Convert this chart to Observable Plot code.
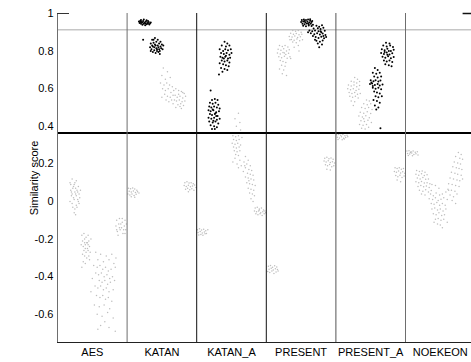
<!DOCTYPE html>
<html>
<head>
<meta charset="utf-8">
<script src="https://cdn.jsdelivr.net/npm/d3@7"></script>
<script src="https://cdn.jsdelivr.net/npm/@observablehq/plot@0.6"></script>
<style>
  html, body { margin: 0; padding: 0; background: #fff; overflow: hidden; }
  #chart svg { display: block; }
  #chart svg text { font-weight: normal; }
</style>
</head>
<body>
<div id="chart"></div>
<script>
// Cipher panels along the x axis
const ciphers = ["AES", "KATAN", "KATAN_A", "PRESENT", "PRESENT_A", "NOEKEON"];
const yTicks = [1, 0.8, 0.6, 0.4, 0.2, 0, -0.2, -0.4, -0.6];
const upperThreshold = 0.914;
const lowerThreshold = 0.364;

// Each point: [position inside the panel (0..1), similarity score]
const aesGrey = [
  [0.18,0.10],[0.21,0.12],[0.24,0.09],[0.27,0.11],[0.30,0.08],[0.19,0.06],[0.22,0.07],[0.25,0.05],[0.28,0.06],[0.31,0.04],
  [0.20,0.03],[0.23,0.02],[0.26,0.04],[0.29,0.01],[0.32,0.02],[0.18,0.00],[0.21,-0.01],[0.24,0.01],[0.27,-0.02],[0.30,0.00],
  [0.22,-0.03],[0.25,-0.04],[0.28,-0.03],[0.20,0.05],[0.26,0.07],[0.23,0.08],[0.29,0.05],[0.24,-0.06],[0.27,0.03],[0.21,0.04],
  [0.33,0.06],[0.19,0.09],[0.25,0.10],[0.31,-0.01],[0.26,-0.07],
  [0.35,-0.18],[0.38,-0.17],[0.41,-0.19],[0.44,-0.18],[0.36,-0.21],[0.39,-0.20],[0.42,-0.22],[0.45,-0.21],[0.48,-0.20],[0.34,-0.23],
  [0.37,-0.24],[0.40,-0.23],[0.43,-0.25],[0.46,-0.24],[0.38,-0.26],[0.41,-0.27],[0.44,-0.26],[0.47,-0.27],[0.36,-0.28],[0.39,-0.29],
  [0.42,-0.30],[0.45,-0.29],[0.37,-0.32],[0.40,-0.33],[0.35,-0.35],[0.43,-0.22],[0.40,-0.25],[0.44,-0.23],[0.39,-0.22],[0.46,-0.31],
  [0.55,-0.27],[0.62,-0.28],[0.70,-0.29],[0.78,-0.28],[0.84,-0.30],[0.58,-0.31],[0.66,-0.32],[0.74,-0.31],[0.81,-0.33],
  [0.52,-0.34],[0.57,-0.35],[0.61,-0.34],[0.65,-0.36],[0.69,-0.35],[0.73,-0.37],[0.77,-0.36],[0.83,-0.35],[0.55,-0.38],[0.59,-0.39],
  [0.63,-0.38],[0.67,-0.40],[0.71,-0.39],[0.75,-0.41],[0.79,-0.40],[0.50,-0.41],[0.60,-0.42],[0.64,-0.43],[0.68,-0.42],[0.72,-0.44],
  [0.76,-0.43],[0.82,-0.42],[0.54,-0.45],[0.58,-0.46],[0.62,-0.45],[0.66,-0.47],[0.70,-0.46],[0.74,-0.48],[0.80,-0.47],[0.48,-0.48],
  [0.56,-0.50],[0.61,-0.51],[0.65,-0.50],[0.69,-0.52],[0.73,-0.51],[0.78,-0.53],
  [0.53,-0.55],[0.60,-0.56],[0.67,-0.55],[0.75,-0.57],[0.57,-0.60],[0.64,-0.61],[0.72,-0.59],[0.80,-0.62],[0.62,-0.66],[0.74,-0.67],
  [0.83,-0.69],[0.68,-0.64],[0.58,-0.68],
  [0.85,-0.10],[0.89,-0.09],[0.93,-0.11],[0.97,-0.10],[0.84,-0.13],[0.88,-0.12],[0.92,-0.14],[0.96,-0.13],[0.99,-0.12],[0.86,-0.16],
  [0.90,-0.15],[0.94,-0.17],[0.98,-0.15],[0.87,-0.18],[0.91,-0.12],[0.95,-0.15],[0.89,-0.14],[0.93,-0.09],[0.97,-0.17],[0.85,-0.15]
];
const aesBlack = [];

const katanBlack = [
  [0.17,0.958],[0.19,0.962],[0.21,0.955],[0.23,0.960],[0.25,0.952],[0.27,0.958],[0.29,0.950],[0.31,0.955],[0.33,0.948],[0.18,0.950],
  [0.20,0.946],[0.22,0.952],[0.24,0.945],[0.26,0.948],[0.28,0.943],[0.30,0.946],[0.32,0.941],[0.20,0.966],[0.24,0.968],[0.28,0.964],
  [0.34,0.952],[0.22,0.940],[0.26,0.938],[0.30,0.960],[0.19,0.955],
  [0.36,0.86],[0.40,0.87],[0.44,0.86],[0.48,0.85],[0.34,0.84],[0.38,0.845],[0.42,0.85],[0.46,0.84],[0.50,0.835],[0.33,0.82],
  [0.37,0.825],[0.41,0.83],[0.45,0.82],[0.49,0.815],[0.35,0.81],[0.39,0.805],[0.43,0.81],[0.47,0.80],[0.51,0.81],[0.37,0.795],
  [0.41,0.79],[0.45,0.795],[0.40,0.835],[0.44,0.83],[0.36,0.83],[0.48,0.825],[0.42,0.815],[0.39,0.82],[0.46,0.81],[0.43,0.80],
  [0.38,0.86],[0.47,0.785],[0.52,0.83],[0.34,0.80],[0.23,0.86]
];
const katanGrey = [
  [0.52,0.71],[0.58,0.69],[0.50,0.67],[0.55,0.65],[0.62,0.66],[0.48,0.63],
  [0.53,0.62],[0.57,0.63],[0.61,0.62],[0.65,0.61],[0.51,0.60],[0.55,0.59],[0.59,0.60],[0.63,0.58],[0.67,0.59],[0.54,0.57],
  [0.58,0.56],[0.62,0.555],[0.66,0.565],[0.50,0.555],[0.56,0.54],[0.60,0.53],
  [0.70,0.60],[0.74,0.59],[0.78,0.585],[0.82,0.575],[0.69,0.565],[0.72,0.555],[0.76,0.56],[0.80,0.55],[0.84,0.56],[0.71,0.535],
  [0.75,0.54],[0.79,0.53],[0.83,0.535],[0.73,0.515],[0.77,0.52],[0.81,0.51],[0.70,0.50],[0.78,0.495],[0.74,0.57],[0.68,0.54],
  [0.64,0.54],[0.66,0.52],[0.80,0.58],[0.76,0.505],
  [0.02,0.07],[0.05,0.068],[0.08,0.072],[0.11,0.066],[0.14,0.06],[0.03,0.055],[0.06,0.05],[0.09,0.056],[0.12,0.048],[0.15,0.052],
  [0.01,0.04],[0.04,0.035],[0.07,0.04],[0.10,0.032],[0.13,0.038],[0.17,0.045],[0.06,0.025],[0.11,0.022],
  [0.83,0.10],[0.86,0.105],[0.89,0.098],[0.92,0.10],[0.95,0.095],[0.82,0.085],[0.85,0.08],[0.88,0.087],[0.91,0.078],[0.94,0.082],
  [0.97,0.088],[0.84,0.065],[0.87,0.07],[0.90,0.062],[0.93,0.068],[0.96,0.06],[0.99,0.075],[0.88,0.052]
];

const katanABlack = [
  [0.40,0.85],[0.44,0.84],[0.36,0.83],[0.42,0.825],[0.47,0.83],[0.33,0.81],[0.38,0.80],[0.41,0.81],[0.45,0.805],[0.49,0.81],
  [0.35,0.79],[0.39,0.785],[0.43,0.79],[0.47,0.78],[0.50,0.79],[0.34,0.77],[0.37,0.765],[0.41,0.77],[0.45,0.76],[0.48,0.765],
  [0.36,0.75],[0.40,0.745],[0.44,0.75],[0.47,0.74],[0.33,0.735],[0.38,0.73],[0.42,0.725],[0.46,0.72],[0.35,0.71],[0.40,0.705],
  [0.44,0.70],[0.37,0.69],[0.42,0.775],[0.39,0.76],[0.32,0.675],
  [0.20,0.59],[0.22,0.54],[0.26,0.545],[0.30,0.54],[0.19,0.525],[0.23,0.52],[0.27,0.525],[0.31,0.515],[0.18,0.505],[0.21,0.50],
  [0.25,0.505],[0.29,0.50],[0.33,0.495],[0.17,0.485],[0.20,0.48],[0.24,0.485],[0.28,0.475],[0.32,0.48],[0.19,0.465],[0.22,0.46],
  [0.26,0.465],[0.30,0.455],[0.17,0.445],[0.21,0.44],[0.25,0.445],[0.29,0.435],[0.33,0.44],[0.18,0.425],[0.23,0.42],[0.27,0.425],
  [0.31,0.415],[0.20,0.405],[0.25,0.40],[0.29,0.395],[0.22,0.385],[0.27,0.47],[0.23,0.49],[0.28,0.455],[0.24,0.43],[0.26,0.385]
];
const katanAGrey = [
  [0.60,0.47],[0.55,0.44],[0.62,0.42],[0.57,0.40],[0.63,0.38],
  [0.52,0.35],[0.56,0.345],[0.60,0.35],[0.53,0.33],[0.57,0.325],[0.61,0.33],[0.51,0.31],[0.55,0.305],[0.59,0.31],[0.63,0.30],
  [0.53,0.29],[0.57,0.285],[0.61,0.29],[0.54,0.27],[0.58,0.265],[0.62,0.27],[0.56,0.25],[0.60,0.245],
  [0.55,0.23],[0.62,0.22],[0.58,0.20],[0.64,0.19],[0.52,0.21],[0.60,0.18],[0.65,0.34],
  [0.70,0.24],[0.74,0.22],[0.68,0.21],[0.72,0.20],[0.77,0.19],[0.70,0.18],[0.75,0.17],[0.79,0.165],[0.67,0.16],[0.73,0.15],
  [0.77,0.145],[0.81,0.14],[0.70,0.13],[0.74,0.125],[0.78,0.12],[0.82,0.115],[0.72,0.10],[0.76,0.095],[0.80,0.09],[0.84,0.085],
  [0.74,0.07],[0.78,0.065],[0.82,0.06],[0.76,0.045],[0.80,0.04],[0.83,0.03],[0.78,0.015],[0.81,0.00],[0.69,0.19],[0.75,0.11],
  [0.84,-0.035],[0.87,-0.03],[0.90,-0.04],[0.93,-0.035],[0.96,-0.045],[0.83,-0.05],[0.86,-0.055],[0.89,-0.05],[0.92,-0.06],[0.95,-0.055],
  [0.98,-0.05],[0.85,-0.065],[0.88,-0.07],[0.91,-0.065],[0.94,-0.075],[0.97,-0.065],[0.90,-0.045],[0.99,-0.06],
  [0.01,-0.15],[0.04,-0.145],[0.07,-0.152],[0.10,-0.148],[0.13,-0.155],[0.16,-0.15],[0.02,-0.165],[0.05,-0.16],[0.08,-0.168],[0.11,-0.162],
  [0.14,-0.17],[0.03,-0.178],[0.06,-0.175],[0.09,-0.18],[0.12,-0.172]
];

const presentBlack = [
  [0.51,0.965],[0.54,0.968],[0.57,0.965],[0.60,0.968],[0.63,0.962],[0.66,0.96],[0.50,0.955],[0.53,0.958],[0.56,0.954],[0.59,0.957],
  [0.62,0.952],[0.65,0.955],[0.52,0.946],[0.55,0.943],[0.58,0.947],[0.61,0.942],[0.64,0.945],[0.67,0.94],[0.53,0.935],[0.57,0.932],
  [0.61,0.936],[0.65,0.933],[0.55,0.96],[0.60,0.948],[0.63,0.97],
  [0.72,0.935],[0.76,0.93],[0.80,0.937],[0.68,0.92],[0.74,0.922],[0.78,0.918],[0.82,0.924],[0.62,0.91],[0.66,0.905],[0.70,0.91],
  [0.75,0.906],[0.79,0.90],[0.84,0.908],[0.64,0.895],[0.69,0.89],[0.73,0.895],[0.77,0.888],[0.81,0.893],[0.85,0.886],[0.71,0.875],
  [0.75,0.87],[0.79,0.876],[0.83,0.868],[0.72,0.855],[0.77,0.85],[0.81,0.857],[0.74,0.84],[0.80,0.835],[0.76,0.82],[0.70,0.86],
  [0.86,0.875],[0.60,0.90],[0.78,0.905],[0.82,0.88],[0.67,0.88]
];
const presentGrey = [
  [0.38,0.91],[0.42,0.905],[0.46,0.91],[0.50,0.90],[0.35,0.895],[0.39,0.89],[0.43,0.893],[0.47,0.887],[0.51,0.89],[0.33,0.878],
  [0.37,0.875],[0.41,0.88],[0.45,0.872],[0.49,0.876],[0.36,0.862],[0.40,0.858],[0.44,0.864],[0.48,0.855],[0.38,0.848],[0.43,0.845],
  [0.46,0.83],[0.40,0.82],[0.47,0.80],[0.52,0.86],[0.34,0.86],
  [0.19,0.83],[0.23,0.825],[0.27,0.83],[0.31,0.822],[0.17,0.81],[0.21,0.805],[0.25,0.812],[0.29,0.80],[0.33,0.807],[0.16,0.79],
  [0.20,0.785],[0.24,0.792],[0.28,0.782],[0.32,0.788],[0.18,0.77],[0.22,0.765],[0.26,0.772],[0.30,0.762],[0.34,0.77],[0.20,0.75],
  [0.24,0.745],[0.28,0.74],[0.22,0.725],[0.27,0.72],[0.19,0.705],[0.25,0.70],[0.23,0.68],[0.29,0.67],[0.35,0.76],[0.26,0.79],
  [0.03,-0.345],[0.06,-0.34],[0.09,-0.35],[0.12,-0.342],[0.15,-0.348],[0.04,-0.36],[0.07,-0.355],[0.10,-0.365],[0.13,-0.358],[0.16,-0.362],
  [0.02,-0.372],[0.05,-0.378],[0.08,-0.37],[0.11,-0.383],[0.14,-0.375],[0.17,-0.37],
  [0.84,0.23],[0.87,0.235],[0.90,0.228],[0.93,0.232],[0.96,0.225],[0.83,0.215],[0.86,0.21],[0.89,0.217],[0.92,0.208],[0.95,0.212],
  [0.98,0.205],[0.85,0.195],[0.88,0.19],[0.91,0.197],[0.94,0.185],[0.97,0.19],[0.87,0.172],[0.92,0.168]
];

const presentABlack = [
  [0.56,0.71],[0.60,0.70],[0.53,0.685],[0.58,0.68],[0.63,0.685],[0.55,0.665],[0.60,0.66],[0.65,0.665],[0.50,0.645],[0.54,0.64],
  [0.57,0.645],[0.61,0.638],[0.64,0.643],[0.49,0.625],[0.52,0.628],[0.56,0.62],[0.60,0.625],[0.63,0.617],[0.67,0.622],[0.53,0.605],
  [0.57,0.60],[0.61,0.605],[0.65,0.597],[0.55,0.585],[0.59,0.58],[0.63,0.575],[0.57,0.56],[0.61,0.555],[0.66,0.56],[0.54,0.54],
  [0.59,0.535],[0.63,0.525],[0.56,0.51],[0.61,0.50],[0.58,0.49],[0.51,0.633],[0.53,0.615],[0.64,0.39],
  [0.72,0.845],[0.77,0.84],[0.68,0.83],[0.73,0.825],[0.78,0.83],[0.82,0.822],[0.66,0.81],[0.70,0.805],[0.74,0.812],[0.79,0.80],
  [0.83,0.807],[0.65,0.79],[0.69,0.785],[0.73,0.792],[0.77,0.782],[0.81,0.788],[0.67,0.77],[0.71,0.765],[0.75,0.772],[0.79,0.762],
  [0.83,0.768],[0.69,0.75],[0.73,0.745],[0.77,0.75],[0.81,0.742],[0.71,0.73],[0.76,0.725],[0.80,0.72],[0.74,0.78],[0.70,0.795],[0.76,0.80]
];
const presentAGrey = [
  [0.01,0.355],[0.04,0.358],[0.07,0.352],[0.10,0.356],[0.13,0.35],[0.16,0.353],[0.02,0.342],[0.05,0.338],[0.08,0.345],[0.11,0.336],
  [0.14,0.34],[0.17,0.344],[0.03,0.33],[0.09,0.328],[0.12,0.332],
  [0.27,0.66],[0.31,0.65],[0.22,0.64],[0.26,0.635],[0.30,0.63],[0.34,0.638],[0.18,0.62],[0.22,0.615],[0.26,0.62],[0.30,0.61],
  [0.34,0.617],[0.17,0.60],[0.21,0.595],[0.25,0.60],[0.29,0.59],[0.33,0.597],[0.19,0.58],[0.23,0.575],[0.27,0.58],[0.31,0.57],
  [0.35,0.575],[0.20,0.56],[0.24,0.555],[0.28,0.56],[0.32,0.55],[0.22,0.535],[0.27,0.53],[0.25,0.51],
  [0.44,0.54],[0.48,0.535],[0.40,0.52],[0.45,0.515],[0.50,0.52],[0.37,0.50],[0.42,0.495],[0.47,0.50],[0.52,0.49],[0.35,0.475],
  [0.40,0.47],[0.45,0.478],[0.50,0.468],[0.33,0.455],[0.38,0.45],[0.43,0.456],[0.48,0.446],[0.36,0.43],[0.41,0.425],[0.46,0.432],
  [0.51,0.42],[0.34,0.41],[0.39,0.405],[0.44,0.41],[0.37,0.39],[0.42,0.385],[0.47,0.395],[0.40,0.44],
  [0.85,0.18],[0.88,0.176],[0.91,0.18],[0.94,0.172],[0.97,0.176],[0.84,0.16],[0.87,0.155],[0.90,0.162],[0.93,0.152],[0.96,0.158],
  [0.99,0.15],[0.86,0.138],[0.89,0.132],[0.92,0.14],[0.95,0.128],[0.98,0.135],[0.88,0.115],[0.93,0.105]
];

const noekeonBlack = [];
const noekeonGrey = [
  [0.02,0.268],[0.05,0.27],[0.08,0.265],[0.11,0.268],[0.14,0.262],[0.17,0.265],[0.03,0.255],[0.06,0.252],[0.09,0.258],[0.12,0.25],
  [0.15,0.254],[0.18,0.248],[0.04,0.245],[0.10,0.243],[0.07,0.26],
  [0.16,0.165],[0.20,0.16],[0.24,0.162],[0.28,0.155],[0.15,0.145],[0.19,0.14],[0.23,0.147],[0.27,0.138],[0.31,0.142],[0.17,0.125],
  [0.21,0.12],[0.25,0.127],[0.29,0.118],[0.33,0.12],[0.15,0.105],[0.19,0.10],[0.23,0.107],[0.27,0.098],[0.31,0.10],[0.35,0.095],
  [0.18,0.08],[0.22,0.085],[0.26,0.078],[0.30,0.082],[0.34,0.075],[0.20,0.06],[0.25,0.055],[0.29,0.062],[0.33,0.05],[0.37,0.058],
  [0.23,0.04],[0.28,0.035],
  [0.38,0.09],[0.43,0.085],[0.48,0.07],[0.36,0.04],[0.40,0.03],[0.44,0.045],[0.49,0.035],[0.53,0.04],[0.58,0.05],[0.62,0.06],
  [0.34,0.015],[0.39,0.01],[0.43,0.02],[0.47,0.005],[0.51,0.012],[0.55,0.02],[0.60,0.01],[0.37,-0.01],[0.41,-0.015],[0.45,-0.005],
  [0.49,-0.02],[0.53,-0.01],[0.57,-0.02],[0.38,-0.04],[0.42,-0.035],[0.46,-0.045],[0.50,-0.04],[0.54,-0.05],[0.58,-0.04],[0.40,-0.065],
  [0.44,-0.07],[0.48,-0.06],[0.52,-0.075],[0.56,-0.07],[0.43,-0.095],[0.47,-0.09],[0.51,-0.10],[0.55,-0.095],[0.46,-0.12],[0.50,-0.125],
  [0.53,-0.14],[0.60,-0.11],[0.41,-0.11],
  [0.76,0.26],[0.80,0.25],[0.72,0.24],[0.78,0.23],[0.82,0.225],[0.70,0.21],[0.75,0.205],[0.79,0.20],[0.68,0.185],[0.73,0.18],
  [0.77,0.175],[0.81,0.17],[0.66,0.155],[0.71,0.15],[0.75,0.145],[0.80,0.14],[0.64,0.125],[0.69,0.12],[0.74,0.115],[0.78,0.11],
  [0.82,0.12],[0.62,0.095],[0.67,0.09],[0.72,0.085],[0.77,0.08],[0.61,0.065],[0.66,0.06],[0.71,0.055],[0.64,0.035],[0.69,0.025],
  [0.74,0.04],[0.67,0.005],[0.72,-0.01]
];

// Panel i spans x in [i, i + 1]
const panels = [
  [aesGrey, aesBlack],
  [katanGrey, katanBlack],
  [katanAGrey, katanABlack],
  [presentGrey, presentBlack],
  [presentAGrey, presentABlack],
  [noekeonGrey, noekeonBlack]
];
const greyPoints = panels.flatMap(([g], i) => g.map(([o, s]) => ({x: i + o, y: s})));
const blackPoints = panels.flatMap(([, b], i) => b.map(([o, s]) => ({x: i + o, y: s})));

const separators = [
  {x: 1, c: "#6e6e6e"}, {x: 2, c: "#111"}, {x: 3, c: "#111"}, {x: 4, c: "#555"}, {x: 5, c: "#6e6e6e"}
];
const tickLen = 12 / 69.6;

const chart = Plot.plot({
  width: 471,
  height: 362,
  marginLeft: 57,
  marginRight: 0,
  marginTop: 13,
  marginBottom: 20,
  style: {fontFamily: "'Liberation Sans', Arial, sans-serif", fontSize: "11px", color: "#000", background: "#fff"},
  x: {domain: [0, 6], range: [57, 474.6], axis: null},
  y: {domain: [-0.75, 1], axis: null},
  marks: [
    Plot.ruleY([upperThreshold], {stroke: "#c6c6c6", strokeWidth: 1.5}),
    Plot.dot(greyPoints, {x: "x", y: "y", r: 0.75, fill: "#bebebe", stroke: null}),
    Plot.dot(blackPoints, {x: "x", y: "y", r: 1, fill: "#000", stroke: null}),
    Plot.ruleY([lowerThreshold], {stroke: "#000", strokeWidth: 2}),
    Plot.ruleX(separators, {x: "x", y1: -0.75, y2: 1, stroke: "c", strokeWidth: 1}),
    Plot.ruleX([0], {y1: -0.75, y2: 1, stroke: "#6e6e6e", strokeWidth: 1}),
    Plot.ruleY([-0.75], {stroke: "#222", strokeWidth: 1}),
    Plot.ruleY([1], {x1: 0, x2: tickLen, stroke: "#333"}),
    Plot.ruleY([1], {x1: 6 - tickLen, x2: 6, stroke: "#111", strokeWidth: 1.5}),
    Plot.axisY({
      ticks: yTicks,
      tickSize: 0,
      tickPadding: 4,
      tickFormat: d => String(+d.toFixed(1)),
      label: "Similarity score",
      labelAnchor: "center",
      labelArrow: false,
      labelOffset: 27
    }),
    Plot.axisX({
      ticks: ciphers.map((_, i) => i + 0.5),
      tickSize: 0,
      tickPadding: 6,
      tickFormat: d => ciphers[Math.floor(d)],
      label: null
    })
  ]
});
document.getElementById("chart").append(chart);
</script>
</body>
</html>
